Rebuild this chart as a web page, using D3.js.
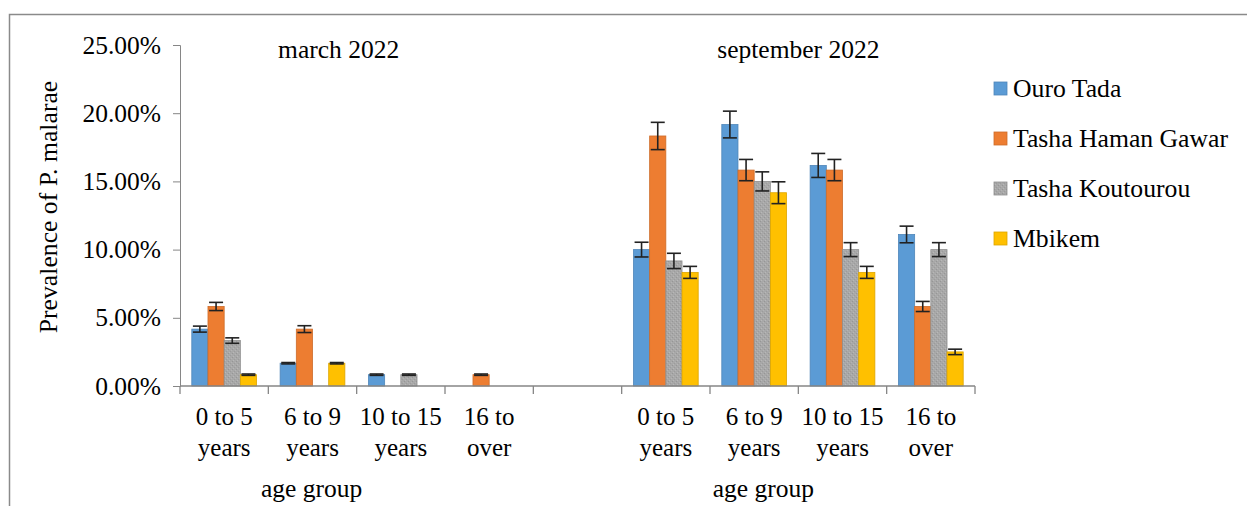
<!DOCTYPE html>
<html>
<head>
<meta charset="utf-8">
<script src="https://cdn.jsdelivr.net/npm/d3@7"></script>
<style>
  body { margin: 0; background: #fff; }
  svg { display: block; }
  svg text { font-family: "Liberation Serif", "Times New Roman", serif !important; fill: #000; }
</style>
</head>
<body>
<svg width="1247" height="506"></svg>
<script>
// Age groups (two lines each), blank slot separates March and September
var categories = ['0 to 5|years', '6 to 9|years', '10 to 15|years', '16 to|over', '',
                  '0 to 5|years', '6 to 9|years', '10 to 15|years', '16 to|over'];
var sites = ['Ouro Tada', 'Tasha Haman Gawar', 'Tasha Koutourou', 'Mbikem'];
var colors = ['#5B9BD5', '#ED7D31', '#A5A5A5', '#FFC000'];

// prevalence (%) per site, one value per category slot (null = empty slot)
var ouroTada      = [4.17, 1.67, 0.83, 0, null, 10.00, 19.17, 16.17, 11.11];
var tashaHaman    = [5.83, 4.17, 0, 0.83, null, 18.33, 15.83, 15.83, 5.83];
var tashaKout     = [3.33, 0, 0.83, 0, null, 9.17, 15.00, 10.00, 10.00];
var mbikem        = [0.83, 1.67, 0, 0, null, 8.33, 14.17, 8.33, 2.50];

// error bar half-lengths (%)
var ouroTadaErr   = [0.22, 0.05, 0.05, 0, null, 0.54, 0.98, 0.88, 0.61];
var tashaHamanErr = [0.30, 0.25, 0, 0.05, null, 1.00, 0.78, 0.78, 0.37];
var tashaKoutErr  = [0.20, 0, 0.05, 0, null, 0.56, 0.70, 0.51, 0.51];
var mbikemErr     = [0.05, 0.05, 0, 0, null, 0.44, 0.80, 0.44, 0.20];

var yTicks = [0, 5, 10, 15, 20, 25];
var periods = ['march 2022', 'september 2022'];

var seriesValues = [ouroTada, tashaHaman, tashaKout, mbikem];
var seriesErrors = [ouroTadaErr, tashaHamanErr, tashaKoutErr, mbikemErr];

var svg = d3.select('svg');
var padding = {t: 45, l: 180, r: 272, b: 120};
var plotW = 1247 - padding.l - padding.r;
var plotH = 506 - padding.t - padding.b;
var fontSize = 25.5;

// textured fill for the grey series
var defs = svg.append('defs');
var pat = defs.append('pattern')
    .attr('id', 'greyTex')
    .attr('width', 4).attr('height', 4)
    .attr('patternUnits', 'userSpaceOnUse');
pat.append('rect').attr('width', 4).attr('height', 4).attr('fill', '#A8A8A8');
pat.append('rect').attr('x', 0).attr('y', 0).attr('width', 1).attr('height', 1).attr('fill', '#969696');
pat.append('rect').attr('x', 2).attr('y', 2).attr('width', 1).attr('height', 1).attr('fill', '#9c9c9c');
pat.append('rect').attr('x', 3).attr('y', 1).attr('width', 1).attr('height', 1).attr('fill', '#b4b4b4');
pat.append('rect').attr('x', 1).attr('y', 3).attr('width', 1).attr('height', 1).attr('fill', '#b8b8b8');
var fills = [colors[0], colors[1], 'url(#greyTex)', colors[3]];

// outer frame
svg.append('path')
    .attr('d', 'M9.5,506 V14.5 H1247')
    .attr('fill', 'none')
    .attr('stroke', '#8a8a8a')
    .attr('stroke-width', 1.5);

var chartG = svg.append('g')
    .attr('transform', 'translate(' + [padding.l, padding.t] + ')');

var x0 = d3.scaleBand()
    .domain(d3.range(categories.length))
    .range([0, plotW])
    .paddingInner(0).paddingOuter(0);

var x1 = d3.scaleBand()
    .domain(d3.range(sites.length))
    .range([11.8, x0.bandwidth() - 11.8])
    .padding(0);

var y = d3.scaleLinear().domain([0, 25]).range([plotH, 0]);

// y axis
var yAxis = d3.axisLeft(y)
    .tickValues(yTicks)
    .tickSize(7)
    .tickPadding(12)
    .tickFormat(d => d.toFixed(2) + '%');

var yg = chartG.append('g').call(yAxis);
yg.select('.domain').attr('stroke', '#868686');
yg.selectAll('.tick line').attr('stroke', '#868686');
yg.selectAll('.tick text')
    .attr('font-size', fontSize)
    .attr('fill', '#000');

// bars
for (var s = 0; s < sites.length; s++) {
    var rows = seriesValues[s].map((v, i) => ({i: i, v: v, e: seriesErrors[s][i]}))
        .filter(d => d.v !== null && d.v > 0);

    chartG.selectAll('.bar-' + s)
        .data(rows)
        .enter().append('rect')
        .attr('class', 'bar-' + s)
        .attr('x', d => x0(d.i) + x1(s))
        .attr('y', d => y(d.v))
        .attr('width', x1.bandwidth())
        .attr('height', d => plotH - y(d.v))
        .attr('fill', fills[s])
        .attr('stroke', d3.color(colors[s]).darker(0.4))
        .attr('stroke-width', 0.8);

    // error bars
    var eg = chartG.selectAll('.err-' + s)
        .data(rows)
        .enter().append('g')
        .attr('class', 'err-' + s)
        .attr('stroke', '#222')
        .attr('stroke-width', 1.6);
    var cx = d => x0(d.i) + x1(s) + x1.bandwidth() / 2;
    eg.append('line')
        .attr('x1', cx).attr('x2', cx)
        .attr('y1', d => y(d.v + d.e)).attr('y2', d => y(d.v - d.e));
    eg.append('line')
        .attr('x1', d => cx(d) - 7).attr('x2', d => cx(d) + 7)
        .attr('y1', d => y(d.v + d.e)).attr('y2', d => y(d.v + d.e));
    eg.append('line')
        .attr('x1', d => cx(d) - 7).attr('x2', d => cx(d) + 7)
        .attr('y1', d => y(d.v - d.e)).attr('y2', d => y(d.v - d.e));
}

// x axis with ticks at category boundaries
var xg = chartG.append('g').attr('transform', 'translate(0,' + plotH + ')');
xg.append('line')
    .attr('x1', 0).attr('x2', plotW)
    .attr('stroke', '#868686').attr('stroke-width', 1.5);
xg.selectAll('.xtick')
    .data(d3.range(categories.length + 1))
    .enter().append('line')
    .attr('class', 'xtick')
    .attr('x1', i => i * x0.step()).attr('x2', i => i * x0.step())
    .attr('y1', 0).attr('y2', 8)
    .attr('stroke', '#868686').attr('stroke-width', 1.3);

var catLabels = xg.selectAll('.cat')
    .data(categories)
    .enter().append('text')
    .attr('class', 'cat')
    .attr('text-anchor', 'middle')
    .attr('font-size', 25);
catLabels.each(function(d, i) {
    var lines = d ? d.split('|') : [];
    var t = d3.select(this);
    lines.forEach(function(l, k) {
        t.append('tspan')
            .attr('x', x0(i) + x0.bandwidth() / 2)
            .attr('y', 39 + k * 31)
            .text(l);
    });
});

// "age group" labels under each period
var groupCenters = [x0(0) + 2 * x0.step(), x0(5) + 2 * x0.step()];
var ageOffsets = [-45, -35];
xg.selectAll('.agegroup')
    .data(groupCenters)
    .enter().append('text')
    .attr('class', 'agegroup')
    .attr('x', (d, k) => d + ageOffsets[k])
    .attr('y', 111)
    .attr('text-anchor', 'middle')
    .attr('font-size', fontSize)
    .text('age group');

// period titles
var titleOffsets = [-18, 0];
chartG.selectAll('.period')
    .data(periods)
    .enter().append('text')
    .attr('class', 'period')
    .attr('x', (d, k) => groupCenters[k] + titleOffsets[k])
    .attr('y', 13)
    .attr('text-anchor', 'middle')
    .attr('font-size', fontSize)
    .text(d => d);

// y axis title
svg.append('text')
    .attr('transform', 'translate(57,207) rotate(-90)')
    .attr('text-anchor', 'middle')
    .attr('font-size', 25.7)
    .text('Prevalence of P. malarae');

// legend
var legend = svg.append('g').attr('transform', 'translate(994,89)');
var li = legend.selectAll('.leg')
    .data(sites)
    .enter().append('g')
    .attr('class', 'leg')
    .attr('transform', (d, i) => 'translate(0,' + (i * 50) + ')');
li.append('rect')
    .attr('x', 0).attr('y', -7)
    .attr('width', 13).attr('height', 13)
    .attr('fill', (d, i) => fills[i])
    .attr('stroke', (d, i) => d3.color(colors[i]).darker(0.4))
    .attr('stroke-width', 0.8);
li.append('text')
    .attr('x', 19).attr('y', 8)
    .attr('font-size', 25.7)
    .text(d => d);
</script>
</body>
</html>
